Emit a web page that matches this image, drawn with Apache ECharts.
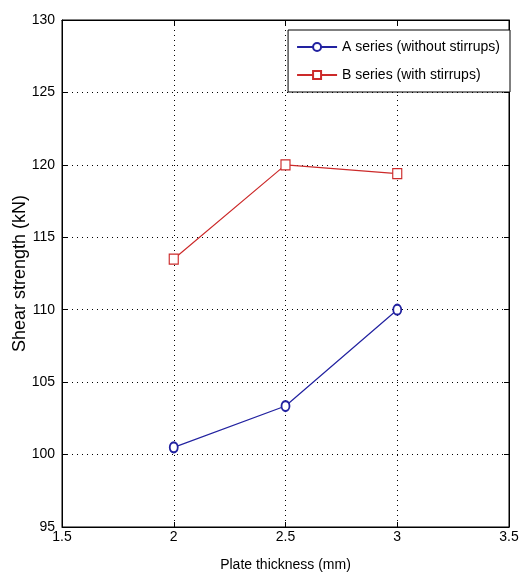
<!DOCTYPE html>
<html><head><meta charset="utf-8">
<script src="https://cdn.jsdelivr.net/npm/echarts@6/dist/echarts.min.js"></script>
<style>html,body{margin:0;padding:0;background:#fff}#c{width:523px;height:580px}</style>
</head><body><div id="c"></div>
<script>
const thickness = [2, 2.5, 3];
const seriesA = [100.5, 103.35, 110.0];
const seriesB = [113.5, 120.0, 119.4];
const xTicks = [1.5, 2, 2.5, 3, 3.5];
const yTicks = [95, 100, 105, 110, 115, 120, 125, 130];
const nameA = 'A series (without stirrups)';
const nameB = 'B series (with stirrups)';
const xTitle = 'Plate thickness (mm)';
const yTitle = 'Shear strength (kN)';

const FONT = '"Liberation Sans", Arial, sans-serif';
const chart = echarts.init(document.getElementById('c'), null, {renderer: 'canvas'});
const gridLine = {show: true, lineStyle: {color: '#000', type: [1, 4], width: 1}};
chart.setOption({
  animation: false,
  backgroundColor: '#fff',
  textStyle: {fontFamily: FONT},
  grid: {left: 62, right: 14, top: 20, bottom: 53, show: true, borderColor: '#000', borderWidth: 1,
         containLabel: false, outerBoundsMode: 'none'},
  legend: {
    right: 13, top: 30, orient: 'vertical',
    backgroundColor: '#fff', borderColor: '#000', borderWidth: 1,
    padding: [10, 10, 10, 8], itemGap: 14, itemWidth: 40, itemHeight: 10,
    textStyle: {fontFamily: FONT, fontSize: 14, lineHeight: 14, color: '#000'},
    data: [nameA, nameB]
  },
  xAxis: [{
    type: 'value', min: xTicks[0], max: xTicks[xTicks.length - 1], interval: 0.5,
    name: xTitle, nameLocation: 'middle', nameGap: 31, nameMoveOverlap: false,
    nameTextStyle: {fontFamily: FONT, fontSize: 14, color: '#000'},
    axisLine: {show: true, onZero: false, lineStyle: {color: '#000'}},
    axisTick: {show: true, inside: true, length: 5, lineStyle: {color: '#000'}},
    axisLabel: {fontFamily: FONT, fontSize: 14, color: '#000', margin: 3},
    splitLine: gridLine
  }, {
    type: 'value', position: 'top', min: xTicks[0], max: xTicks[xTicks.length - 1], interval: 0.5,
    axisLine: {show: true, lineStyle: {color: '#000'}},
    axisTick: {show: true, inside: true, length: 5, lineStyle: {color: '#000'}},
    axisLabel: {show: false}, splitLine: {show: false}
  }],
  yAxis: [{
    type: 'value', min: yTicks[0], max: yTicks[yTicks.length - 1], interval: 5,
    name: yTitle, nameLocation: 'middle', nameGap: 33, nameMoveOverlap: false,
    nameTextStyle: {fontFamily: FONT, fontSize: 18, color: '#000'},
    axisLine: {show: true, lineStyle: {color: '#000'}},
    axisTick: {show: true, inside: true, length: 5, lineStyle: {color: '#000'}},
    axisLabel: {fontFamily: FONT, fontSize: 14, color: '#000', margin: 7},
    splitLine: gridLine
  }, {
    type: 'value', position: 'right', min: yTicks[0], max: yTicks[yTicks.length - 1], interval: 5,
    axisLine: {show: true, lineStyle: {color: '#000'}},
    axisTick: {show: true, inside: true, length: 5, lineStyle: {color: '#000'}},
    axisLabel: {show: false}, splitLine: {show: false}
  }],
  series: [{
    name: nameA, type: 'line',
    data: thickness.map((x, i) => [x, seriesA[i]]),
    symbol: 'emptyCircle', symbolSize: [8, 10],
    lineStyle: {color: '#2222a0', width: 1.2},
    itemStyle: {color: '#2222a0', borderColor: '#2222a0', borderWidth: 1.2}
  }, {
    name: nameB, type: 'line',
    data: thickness.map((x, i) => [x, seriesB[i]]),
    symbol: 'rect', symbolSize: [9, 10],
    lineStyle: {color: '#cc2a2a', width: 1.2},
    itemStyle: {color: '#fff', borderColor: '#cc2a2a', borderWidth: 1.2}
  }]
});
</script></body></html>
